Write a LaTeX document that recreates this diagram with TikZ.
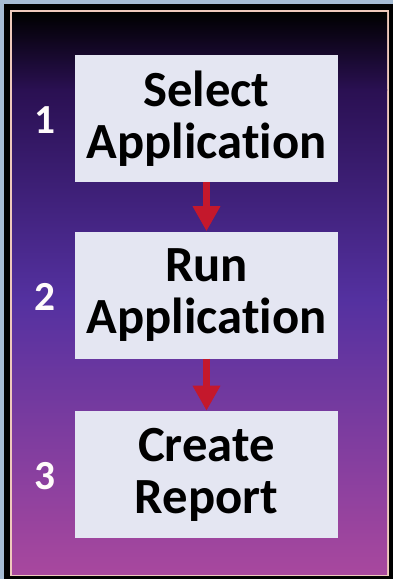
\documentclass[tikz,border=0pt]{standalone}
\usepackage{fontspec}
\setmainfont{Carlito}[Ligatures=NoCommon]
\usetikzlibrary{arrows.meta}

\definecolor{bgblue}{HTML}{A6BCD4}
\definecolor{edgepeach}{HTML}{EFC9BC}
\definecolor{boxgray}{HTML}{E4E6F2}
\definecolor{stepred}{HTML}{C4182C}
\definecolor{darkpurple}{HTML}{2A1052}
\definecolor{midpurple}{HTML}{5431A0}
\definecolor{lowpurple}{HTML}{6E3AA6}
\definecolor{pinkpurple}{HTML}{A8489E}

\tikzset{
  stepbox/.style={rectangle, fill=boxgray, minimum width=197.25pt, minimum height=95.25pt,
    inner sep=0pt, align=center, font=\fontsize{38}{39}\selectfont\bfseries},
  stepnum/.style={text=white!94!pink, font=\fontsize{31}{34}\selectfont\bfseries},
  flow/.style={draw=stepred, line width=5.25pt, -{Triangle[width=19.5pt, length=18.75pt]}}
}

\begin{document}
\begin{tikzpicture}[x=0.75pt, y=-0.75pt]
      % Frame and background
      \fill[bgblue] (0,0) rectangle (393,579);
      \useasboundingbox (0,0) rectangle (393,579);
      \fill[black] (4,4) rectangle (393,579);
      \fill[edgepeach] (10,10) rectangle (389,576);
      \shade[top color=black, bottom color=darkpurple] (12,12) rectangle (387,90);
      \shade[top color=darkpurple, bottom color=midpurple] (12,89.5) rectangle (387,300);
      \shade[top color=midpurple, middle color=lowpurple, bottom color=pinkpurple] (12,299.5) rectangle (387,574);

      % Steps
      \node[stepbox] at (206.5,118.5) (select) {Select\\Application};
      \node[stepbox] at (206.5,295) (run) {Run\\Application};
      \node[stepbox] at (206.5,474.5) (report) {Create\\Report};

      \node[stepnum] at (45,120) (n1) {1};
      \node[stepnum] at (45,297) (n2) {2};
      \node[stepnum] at (45,476) (n3) {3};

      \draw[flow] (select) -- (run);
      \draw[flow] (run) -- (report);
    \end{tikzpicture}
\end{document}
